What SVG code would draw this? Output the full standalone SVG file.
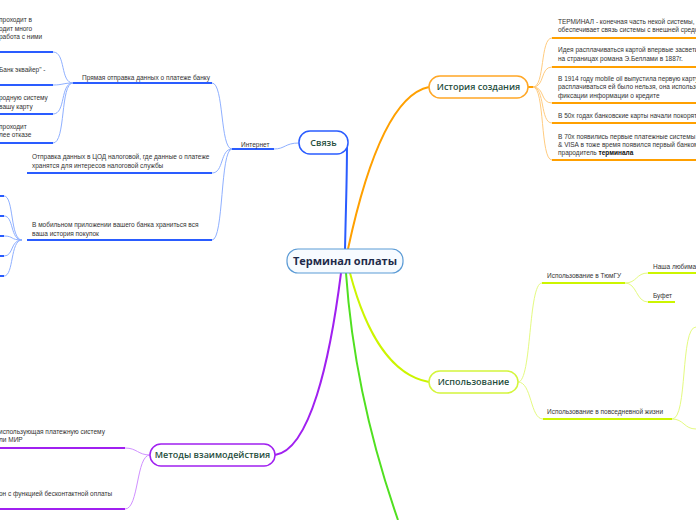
<svg xmlns="http://www.w3.org/2000/svg" width="696" height="520" viewBox="0 0 696 520">
<style>
.t{font-family:"Liberation Sans",Arial,sans-serif;font-size:6.5px;fill:#333}
.n{font-family:"Open Sans","Liberation Sans",sans-serif;font-size:9px;fill:#1f4e3d;font-weight:600;text-anchor:middle}
.c{font-family:"Open Sans","Liberation Sans",sans-serif;font-size:11px;fill:#1e2a4a;font-weight:700;text-anchor:middle}
.cv{fill:none;stroke-width:1}
.ul{fill:none;stroke-width:2}
.bl{stroke:#2a5cff}.blc{stroke:#8fb0ff}
.or{stroke:#ffa000}.orc{stroke:#ffcc80}
.yl{stroke:#ccf500}.ylc{stroke:#e4fa80}
.pu{stroke:#a020f0}.puc{stroke:#d090ff}
</style>
<g id="connectors">
<path class="ul bl" d="M345,250 C346,200 347,180 347,143"/>
<path class="ul or" d="M348,249 C365,170 390,95 429,87"/>
<path class="ul pu" d="M341,273 C330,360 310,450 275,455"/>
<path class="ul" stroke="#50e020" d="M346,273 C352,360 370,440 398,520"/>
<path class="ul yl" d="M350,273 C365,330 390,375 429,382"/>
<path class="cv blc" d="M299,143 C285,143 285,149 274,149"/>
<path class="ul bl" d="M232,149 H274"/>
<path class="cv blc" d="M232,149 C220,149 224,83 212,83 M232,149 C220,149 224,173 212,173 M232,149 C220,149 224,240 212,240"/>
<path class="ul bl" d="M73,83 H212 M27,173 H212 M27,240 H212"/>
<path class="cv blc" d="M73,83 C60,83 66,52 53,52 M73,83 C63,83 63,85 53,85 M73,83 C60,83 66,114 53,114 M73,83 C60,83 66,143 53,143"/>
<path class="ul bl" d="M0,52 H53 M0,85 H53 M0,114 H53 M0,143 H53"/>
<path class="cv blc" d="M22,240 C10,240 14,196 4,196 M22,240 C10,240 14,216 4,216 M22,240 C10,240 14,236 4,236 M22,240 C10,240 14,256 4,256 M22,240 C10,240 14,276 4,276"/>
<path class="ul bl" d="M0,196 H4 M0,216 H4 M0,236 H4 M0,256 H4 M0,276 H4"/>
<path class="ul or" d="M528,87 H533"/>
<path class="cv orc" d="M533,87 C545,87 540,38 552,38 M533,87 C545,87 540,67 552,67 M533,87 C545,87 540,103 552,103 M533,87 C545,87 540,123 552,123 M533,87 C545,87 540,160 552,160"/>
<path class="ul or" d="M552,38 H696 M552,67 H696 M552,103 H696 M552,123 H696 M552,160 H696"/>
<path class="cv ylc" d="M518,382 C532,382 528,283 542,283 M518,382 C532,382 530,419 543,419"/>
<path class="ul yl" d="M542,283 H625 M543,419 H672"/>
<path class="cv ylc" d="M625,283 C637,283 636,273 648,273 M625,283 C637,283 636,302 648,302"/>
<path class="ul yl" d="M648,273 H696 M648,302 H675"/>
<path class="cv ylc" d="M672,419 C688,419 680,327 696,327 M672,419 C684,419 684,429 696,429"/>
<path class="cv puc" d="M150,455 C138,455 137,448 125,448 M150,455 C136,455 139,509 125,509"/>
<path class="ul pu" d="M0,448 H125 M0,509 H125"/>
</g>
<g id="central"><rect x="287" y="249" width="116" height="24" rx="11" fill="#f7fbff" stroke="#5b9bd5" stroke-width="1.2"/><text class="c" x="345" y="265">Терминал оплаты</text></g>
<g id="svyaz"><rect x="299" y="131" width="49" height="23" rx="11" fill="#fff" stroke="#2a5cff" stroke-width="1.5"/><text class="n" x="323.5" y="146">Связь</text></g>
<g id="history"><rect x="429" y="76" width="99" height="22" rx="11" fill="#fff" stroke="#ffa726" stroke-width="1.5"/><text class="n" x="478.5" y="90">История создания</text></g>
<g id="usage"><rect x="429" y="371" width="89" height="22" rx="11" fill="#fff" stroke="#d4f53c" stroke-width="1.5"/><text class="n" x="473.5" y="385">Использование</text></g>
<g id="methods"><rect x="150" y="444" width="125" height="22" rx="11" fill="#fff" stroke="#a020f0" stroke-width="1.5"/><text class="n" x="212.5" y="458">Методы взаимодействия</text></g>
<g id="internet"><text class="t" x="241" y="147">Интернет</text></g>
<g id="pryamaya"><text class="t" x="82" y="80">Прямая отправка данных о платеже банку</text></g>
<g id="cod"><text class="t" x="32" y="159">Отправка данных в ЦОД налоговой, где данные о платеже</text><text class="t" x="32" y="168">хранятся для интересов налоговой службы</text></g>
<g id="mobile"><text class="t" x="32" y="227">В мобильном приложении вашего банка храниться вся</text><text class="t" x="32" y="236">ваша история покупок</text></g>
<g id="l1"><text class="t" x="-1" y="22">проходит в</text><text class="t" x="-1" y="31">одит много</text><text class="t" x="-1" y="39">работа с ними</text></g>
<g id="l2"><text class="t" x="-1" y="72">Банк эквайер" -</text></g>
<g id="l3"><text class="t" x="-1" y="100">родную систему</text><text class="t" x="-1" y="109">вашу карту</text></g>
<g id="l4"><text class="t" x="-1" y="129">проходит</text><text class="t" x="-1" y="137">лее отказе</text></g>
<g id="h1"><text class="t" x="558" y="24">ТЕРМИНАЛ - конечная часть некой системы, к</text><text class="t" x="558" y="32">обеспечивает связь системы с внешней средо</text></g>
<g id="h2"><text class="t" x="558" y="52">Идея расплачиваться картой впервые засвети</text><text class="t" x="558" y="61">на страницах романа Э.Беллами в 1887г.</text></g>
<g id="h3"><text class="t" x="558" y="81">В 1914 году mobile oil выпустила первую карту,</text><text class="t" x="558" y="89">расплачиваться ей было нельзя, она использо</text><text class="t" x="558" y="98">фиксации информации о кредите</text></g>
<g id="h4"><text class="t" x="558" y="118">В 50х годах банковские карты начали покорять</text></g>
<g id="h5"><text class="t" x="558" y="139">В 70х появились первые платежные системы M</text><text class="t" x="558" y="147">&amp; VISA в тоже время появился первый банкома</text><text class="t" x="558" y="155">прародитель <tspan font-weight="bold" fill="#111">терминала</tspan></text></g>
<g id="tyumgu"><text class="t" x="547" y="278">Использование в ТюмГУ</text></g>
<g id="lyubima"><text class="t" x="653" y="269">Наша любима</text></g>
<g id="bufet"><text class="t" x="653" y="298">Буфет</text></g>
<g id="povsed"><text class="t" x="547" y="414">Использование в повседневной жизни</text></g>
<g id="m1"><text class="t" x="-1" y="434">использующая платежную систему</text><text class="t" x="-1" y="442">ли МИР</text></g>
<g id="m2"><text class="t" x="-1" y="496">он с функцией бесконтактной оплаты</text></g>
</svg>
